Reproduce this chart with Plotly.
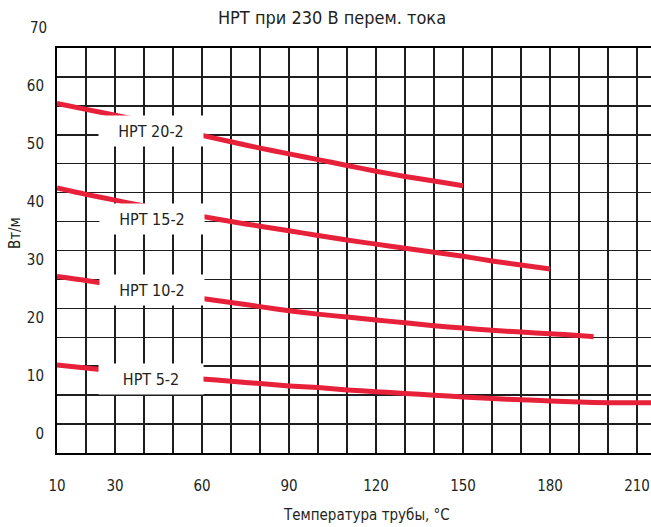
import plotly.graph_objects as go

# ---- data ----
temp_20 = [10, 20, 30, 40, 50, 60, 70, 80, 90, 100, 110, 120, 130, 140, 150]
power_20 = [57.0, 56.0, 55.0, 53.9, 52.7, 51.5, 50.4, 49.3, 48.3, 47.3, 46.3, 45.3, 44.4, 43.6, 42.8]

temp_15 = [10, 20, 30, 40, 50, 60, 70, 80, 90, 100, 110, 120, 130, 140, 150, 160, 170, 180]
power_15 = [42.4, 41.3, 40.3, 39.3, 38.4, 37.5, 36.6, 35.8, 35.0, 34.2, 33.4, 32.7, 32.0, 31.3, 30.6, 29.8, 29.1, 28.4]

temp_10 = [10, 20, 30, 40, 50, 60, 70, 80, 90, 100, 110, 120, 130, 140, 150, 160, 170, 180, 190, 195]
power_10 = [27.1, 26.4, 25.6, 24.8, 24.0, 23.3, 22.6, 21.9, 21.2, 20.6, 20.1, 19.6, 19.1, 18.6, 18.2, 17.8, 17.5, 17.2, 16.9, 16.7]

temp_5 = [10, 20, 30, 40, 50, 60, 70, 80, 90, 100, 110, 120, 130, 140, 150, 160, 170, 180, 190, 200, 210, 215]
power_5 = [11.8, 11.3, 10.8, 10.3, 9.8, 9.4, 9.0, 8.6, 8.2, 7.9, 7.5, 7.2, 6.9, 6.6, 6.3, 6.0, 5.8, 5.6, 5.4, 5.3, 5.3, 5.3]

series_names = ["HPT 20-2", "HPT 15-2", "HPT 10-2", "HPT 5-2"]
label_x = [42.3, 42.7, 42.7, 42.3]
label_y = [52.3, 37.1, 24.7, 9.4]

x_tick_vals = [10, 30, 60, 90, 120, 150, 180, 210]
y_tick_vals = [0, 10, 20, 30, 40, 50, 60]
y_extra_label = 70

title_text = "HPT при 230 В перем. тока"
x_title = "Температура трубы, °C"
y_title = "Вт/м"

FONT = "Liberation Sans Narrow, DejaVu Sans Condensed, Arial Narrow, sans-serif"
RED = "#e8213a"
TXT = "#231f20"
GRID = "#1e1e1e"

Y_MIN, Y_MAX = -3.4, 66.6

fig = go.Figure()
for xs, ys, nm in [(temp_20, power_20, series_names[0]), (temp_15, power_15, series_names[1]),
                   (temp_10, power_10, series_names[2]), (temp_5, power_5, series_names[3])]:
    fig.add_trace(go.Scatter(x=xs, y=ys, mode="lines", name=nm,
                             line=dict(color=RED, width=5, shape="spline", smoothing=0.8),
                             cliponaxis=True, showlegend=False, hoverinfo="skip"))

for nm, lx, ly in zip(series_names, label_x, label_y):
    fig.add_annotation(x=lx, y=ly, xref="x", yref="y", text=nm, showarrow=False,
                       bgcolor="white", width=104, height=30, borderpad=0,
                       font=dict(family=FONT, size=16, color=TXT))

# "70" label sits above the plot area (outside the axis range)
fig.add_annotation(x=0, y=(y_extra_label - Y_MIN) / (Y_MAX - Y_MIN), xref="paper", yref="paper",
                   text=str(y_extra_label), showarrow=False, xanchor="right", yanchor="middle",
                   xshift=-8, font=dict(family=FONT, size=15, color=TXT))

fig.add_annotation(x=0.521, y=-0.153, xref="paper", yref="paper", text=x_title,
                   showarrow=False, xanchor="center", yanchor="middle",
                   font=dict(family=FONT, size=15, color=TXT))
fig.add_annotation(x=-0.0707, y=0.543, xref="paper", yref="paper", text=y_title,
                   showarrow=False, textangle=-90, xanchor="center", yanchor="middle",
                   font=dict(family=FONT, size=15, color=TXT))

fig.update_layout(
    width=651, height=527,
    margin=dict(l=57, r=0, t=48, b=74, autoexpand=False),
    paper_bgcolor="white", plot_bgcolor="white",
    title=dict(text=title_text, x=0.51, xanchor="center", y=1 - 18 / 527, yanchor="middle",
               yref="container", font=dict(family=FONT, size=18, color=TXT)),
    xaxis=dict(range=[10, 214.8], tickvals=x_tick_vals, showgrid=True, gridcolor=GRID, gridwidth=1.5,
               minor=dict(tick0=10, dtick=10, showgrid=True, gridcolor=GRID, gridwidth=1.5),
               showline=True, linecolor="black", linewidth=2, mirror=True,
               ticks="", ticklabelstandoff=18, zeroline=False, automargin=False,
               tickfont=dict(family=FONT, size=15, color=TXT)),
    yaxis=dict(range=[Y_MIN, Y_MAX], tickvals=y_tick_vals, showgrid=False,
               minor=dict(tick0=Y_MIN, dtick=5, showgrid=True, gridcolor=GRID, gridwidth=1.5),
               showline=True, linecolor="black", linewidth=2,
               ticks="", ticklabelstandoff=8, zeroline=False, automargin=False,
               tickfont=dict(family=FONT, size=15, color=TXT)),
)

fig.write_html("out.html", config={"displayModeBar": False, "staticPlot": True},
               post_script="document.body.style.margin='0';document.body.style.padding='0';"
                           "document.body.style.overflow='hidden';")
